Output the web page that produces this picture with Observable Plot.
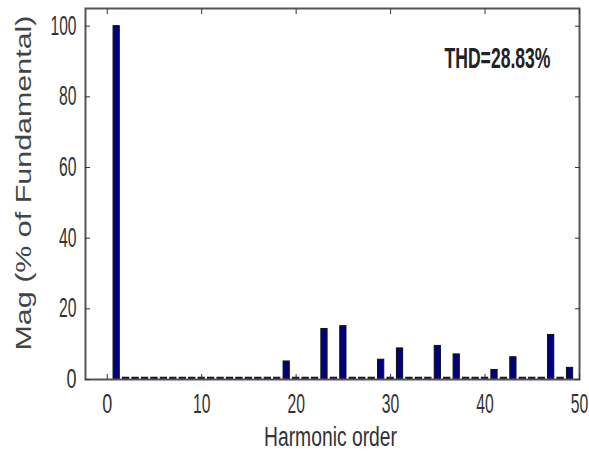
<!DOCTYPE html>
<html><head>
<meta charset="utf-8">
<script src="https://cdn.jsdelivr.net/npm/d3@7"></script>
<script src="https://cdn.jsdelivr.net/npm/@observablehq/plot@0.6"></script>
<style>
body{margin:0;background:#fff;}
#chart{width:589px;height:454px;}
</style>
</head><body><div id="chart"></div>
<script>
const harmonics = [1,2,3,4,5,6,7,8,9,10,11,12,13,14,15,16,17,18,19,20,21,22,23,24,25,26,27,28,29,30,31,32,33,34,35,36,37,38,39,40,41,42,43,44,45,46,47,48,49];
const magnitudes = [100,0.5,0.5,0.5,0.5,0.5,0.5,0.5,0.5,0.5,0.5,0.5,0.5,0.5,0.5,0.5,0.5,0.5,5.1,0.5,0.5,0.5,14.3,0.5,15.1,0.5,0.5,0.5,5.6,0.5,8.8,0.5,0.5,0.5,9.5,0.5,7.1,0.5,0.5,0.5,2.7,0.5,6.3,0.5,0.5,0.5,12.6,0.5,3.3];
const xTicks = [0,10,20,30,40,50];
const yTicks = [0,20,40,60,80,100];
const xLabel = "Harmonic order";
const yLabel = "Mag (% of Fundamental)";
const thdLabel = ["THD=28.83%"];

const data = harmonics.map((h, i) => ({h, m: magnitudes[i]}));
const halfWidth = 0.33;

const plot = Plot.plot({
  width: 589, height: 454,
  marginLeft: 85, marginRight: 10, marginTop: 8, marginBottom: 75,
  x: {domain: [-2.3, 50]},
  y: {domain: [0, 105]},
  style: {fontFamily: "'Liberation Sans', Arial, sans-serif", fontSize: "27px", color: "#333", background: "white"},
  marks: [
    Plot.rectY(data, {x1: d => d.h - halfWidth, x2: d => d.h + halfWidth, y1: 0, y2: "m", fill: "#000080", stroke: "#111", strokeWidth: 1}),
    Plot.frame({stroke: "#555", strokeWidth: 2}),
    Plot.axisX({ticks: xTicks, tickSize: 0, tickPadding: 14, tickFormat: d => String(d), label: null}),
    Plot.axisX({ticks: xTicks, tickSize: -5, tickFormat: () => "", label: null, stroke: "#333"}),
    Plot.axisX({ticks: xTicks, anchor: "top", tickSize: -5, tickFormat: () => "", label: null, stroke: "#333"}),
    Plot.axisY({ticks: yTicks, tickSize: 0, tickPadding: 9, tickFormat: d => String(d), label: null}),
    Plot.axisY({ticks: yTicks, tickSize: -5, tickFormat: () => "", label: null, stroke: "#333"}),
    Plot.axisY({ticks: yTicks, anchor: "right", tickSize: -5, tickFormat: () => "", label: null, stroke: "#333"}),
    Plot.text([xLabel], {frameAnchor: "bottom", dy: 66, dx: -2, fontSize: 27, fill: "#333", lineAnchor: "bottom"}),
    Plot.text([yLabel], {frameAnchor: "left", dx: -62, dy: -11, rotate: -90, textAnchor: "middle", fontSize: 22, fill: "#444"}),
    Plot.text(thdLabel, {frameAnchor: "top-right", dx: -82, dy: 59, fontSize: 29, fontWeight: "bold", fill: "#222", textAnchor: "middle", lineAnchor: "bottom"})
  ]
});
document.getElementById("chart").appendChild(plot);
const fit = {1: 10, 2: 17.5, 3: 26};
d3.select(plot).selectAll("text").each(function() {
  const t = this.textContent;
  const sel = d3.select(this);
  if (t === yLabel) sel.attr("textLength", 335);
  else if (t === xLabel) sel.attr("textLength", 133);
  else if (t === thdLabel[0]) sel.attr("textLength", 106);
  else if (/^\d+$/.test(t)) sel.attr("textLength", fit[t.length]);
  else return;
  sel.attr("lengthAdjust", "spacingAndGlyphs");
});
</script>
</body></html>
